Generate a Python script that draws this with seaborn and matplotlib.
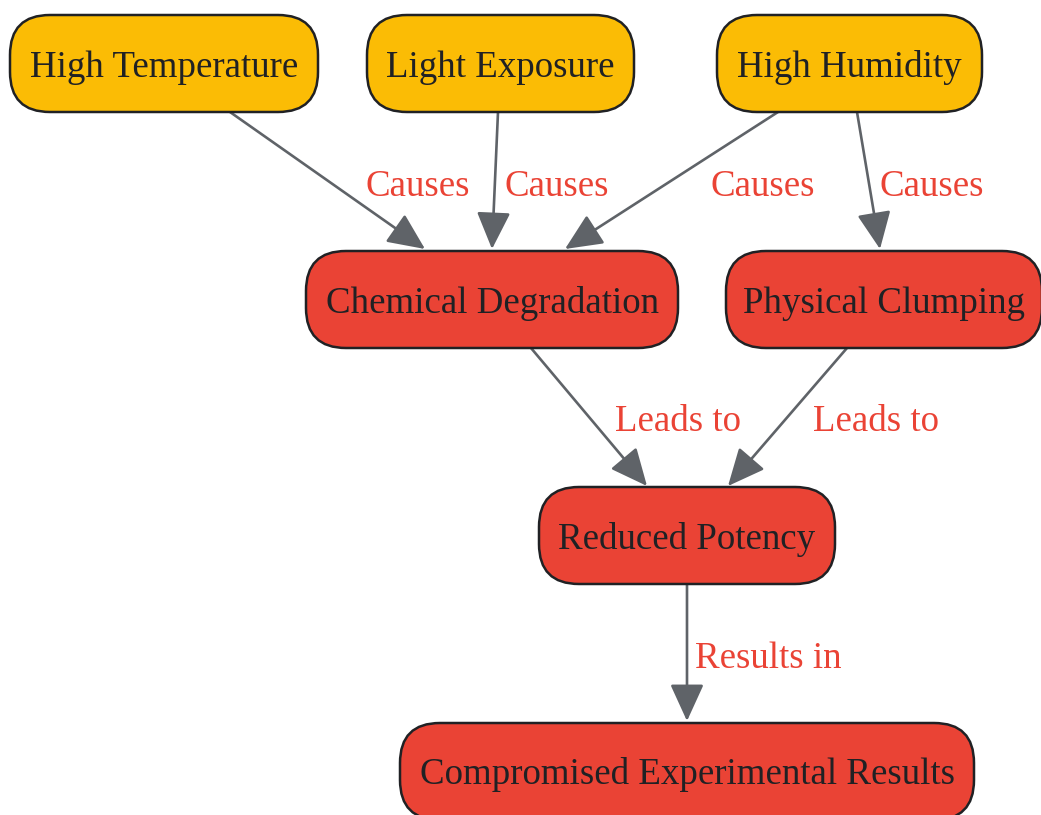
import matplotlib
matplotlib.use("Agg")
import matplotlib.pyplot as plt
import seaborn as sns
from matplotlib.patches import FancyBboxPatch, FancyArrowPatch, ArrowStyle

# ---- data ----
nodes = ["High Temperature", "Light Exposure", "High Humidity",
         "Chemical Degradation", "Physical Clumping", "Reduced Potency",
         "Compromised Experimental Results"]
node_kind = ["factor", "factor", "factor", "effect", "effect", "effect", "effect"]
edge_src = [0, 1, 2, 2, 3, 4, 5]
edge_dst = [3, 3, 3, 4, 5, 5, 6]
edge_labels = ["Causes", "Causes", "Causes", "Causes", "Leads to", "Leads to", "Results in"]

# ---- layout (pixel space) ----
node_box = [(10, 15, 318, 112), (367, 15, 634, 112), (717, 15, 982, 112),
            (306, 251, 678, 348), (726, 251, 1042, 348), (539, 487, 835, 584),
            (400, 723, 974, 820)]
edge_pts = [((230, 112), (425, 249)), ((498, 112), (492, 249)),
            ((778, 112), (565, 249)), ((857, 112), (880, 249)),
            ((531, 348), (647, 486)), ((847, 348), (728, 486)),
            ((687, 584), (687, 721))]
label_pos = [(418, 183), (557, 183), (763, 183), (932, 183),
             (678, 418), (876, 418), (768, 655)]

kind_color = {"factor": "#FBBC05", "effect": "#EA4335"}

sns.set_theme(style="white")
plt.rcParams['font.family'] = ['Liberation Serif', 'DejaVu Serif']

W, H = 1041, 815
fig = plt.figure(figsize=(W / 100, H / 100), dpi=100)
ax = fig.add_axes([0, 0, 1, 1])
ax.set_xlim(0, W)
ax.set_ylim(H, 0)
ax.axis("off")

for i, name in enumerate(nodes):
    x0, y0, x1, y1 = node_box[i]
    p = FancyBboxPatch((x0, y0), x1 - x0, y1 - y0,
                       boxstyle="round,pad=0,rounding_size=40",
                       facecolor=kind_color[node_kind[i]], edgecolor="#202124",
                       linewidth=1.8, zorder=2)
    ax.add_patch(p)
    cx = (x0 + min(x1, W + 2)) / 2
    cy = (y0 + y1) / 2 if y1 <= H else (y0 + 815) / 2 + 1
    ax.text(cx, cy + 13.5, name, ha="center", va="baseline",
            fontsize=26.6, color="#202124", zorder=3)

style = ArrowStyle("-|>", head_length=2.3, head_width=1.05)
for k in range(len(edge_src)):
    (sx, sy), (tx, ty) = edge_pts[k]
    a = FancyArrowPatch((sx, sy), (tx, ty), arrowstyle=style, mutation_scale=10,
                        color="#5F6368", linewidth=1.9, shrinkA=0, shrinkB=0,
                        zorder=1)
    ax.add_patch(a)
    lx, ly = label_pos[k]
    ax.text(lx, ly + 13, edge_labels[k], ha="center", va="baseline",
            fontsize=26.6, color="#EA4335", zorder=3)

fig.savefig("out.png", dpi=100)
